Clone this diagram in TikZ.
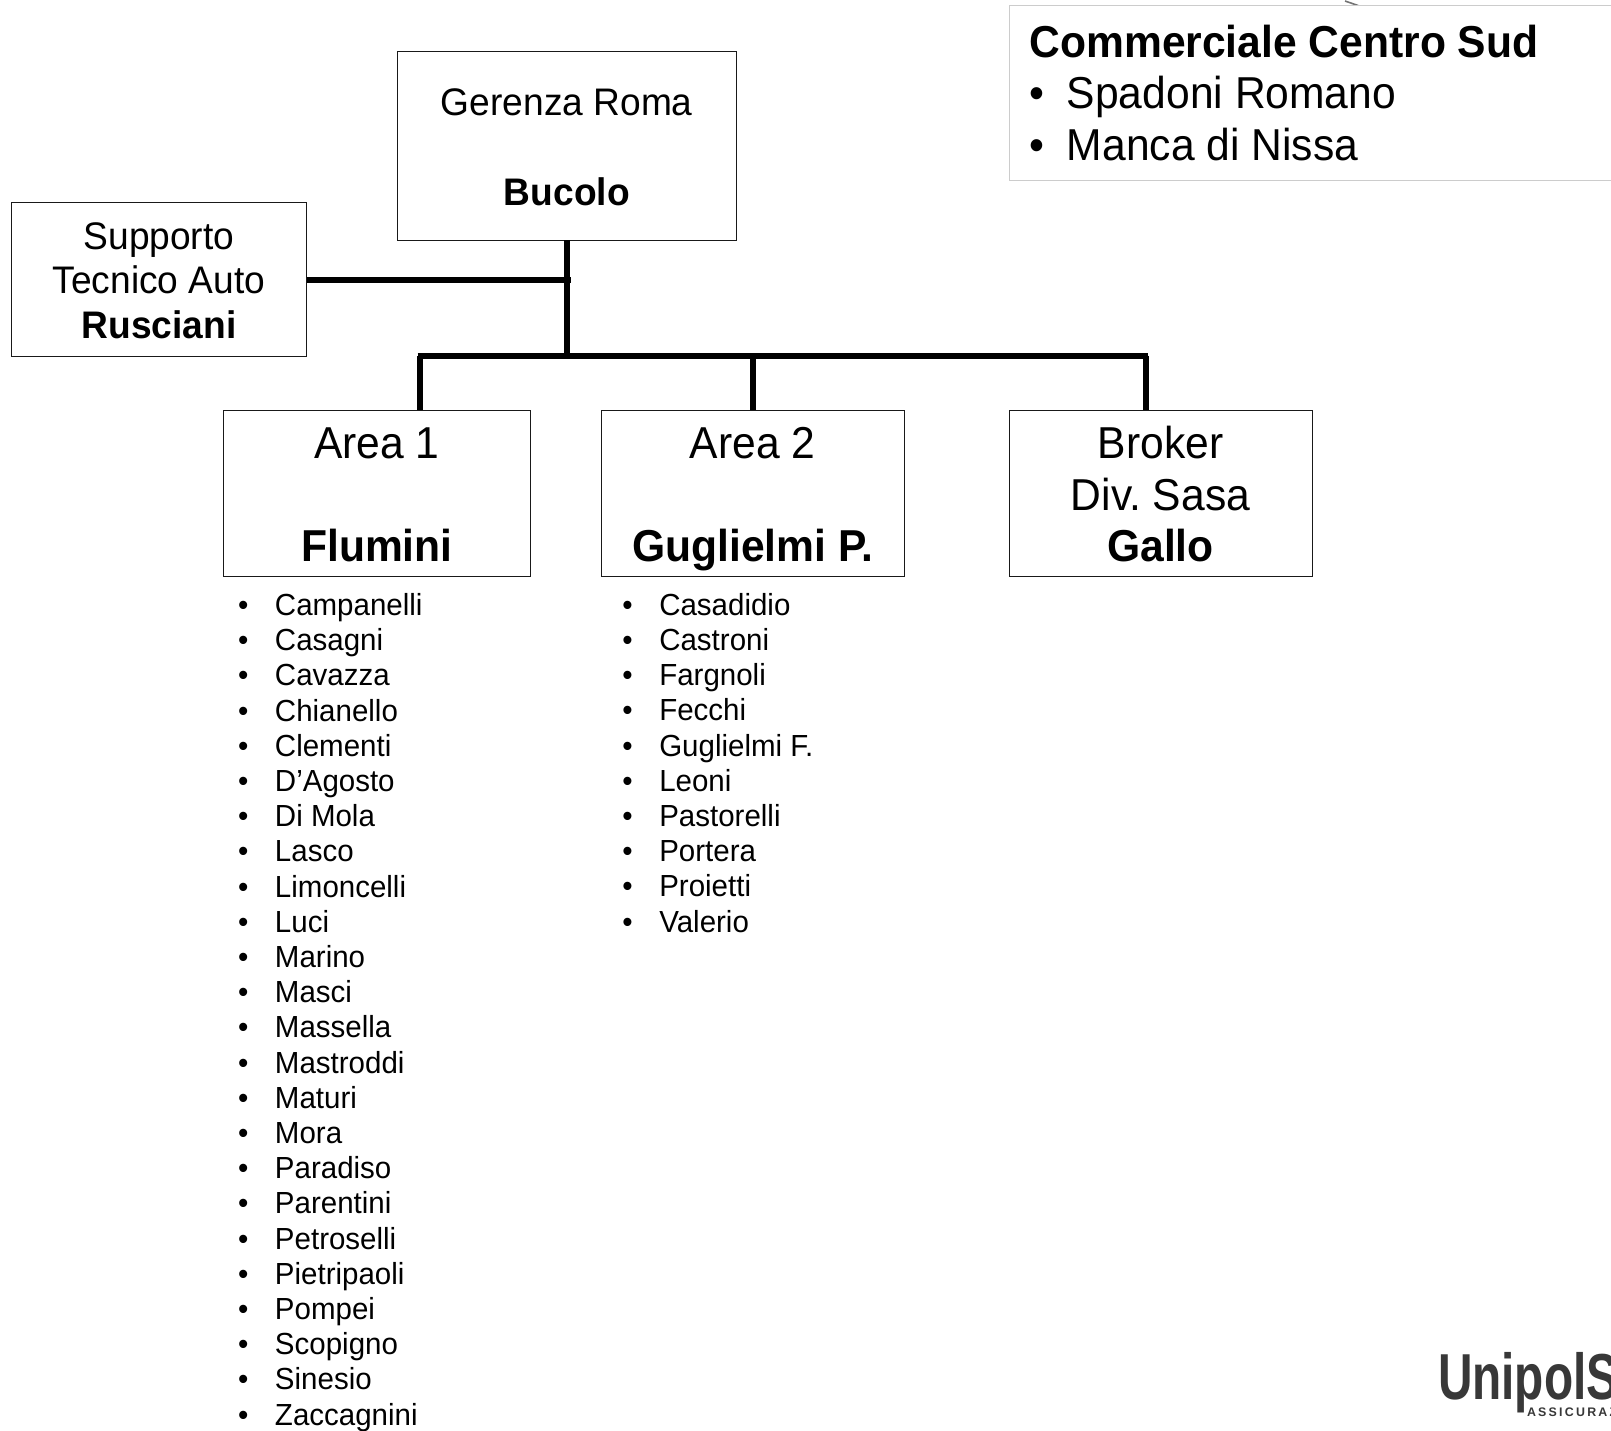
\documentclass[tikz,border=0pt]{standalone}
\usepackage{fontspec}
\usepackage{graphicx}
\setmainfont{Liberation Sans}[FakeStretch=0.967]
\newfontfamily\bigfam{Liberation Sans}[FakeStretch=0.953]
\newfontfamily\spacedbold[LetterSpace=18]{Liberation Sans Bold}
\frenchspacing
\newcommand{\boxlabel}[5]{% dy, dx, size, leading, rows
  \raisebox{#1}[0pt][0pt]{\makebox[0pt]{\hspace{#2}\fontsize{#3}{#4}\selectfont\begin{tabular}[b]{@{}c@{}}#5\end{tabular}}}}
\newcommand{\bigboxlabel}[1]{%
  \raisebox{-34.1pt}[0pt][0pt]{\makebox[0pt]{\bigfam\fontsize{22.35pt}{25.7pt}\selectfont\begin{tabular}[b]{@{}c@{}}#1\end{tabular}}}}
\newcommand{\leftlabel}[3]{%
  \raisebox{#1}[0pt][0pt]{\makebox[0pt][l]{\hspace{#2}\bigfam\fontsize{22.35pt}{25.7pt}\selectfont\begin{tabular}[b]{@{}l@{}}#3\end{tabular}}}}
\newcommand{\bul}[1]{\makebox[18.5pt][l]{•}#1}
\newcommand{\itemlist}[1]{%
  \raisebox{0pt}[0pt][0pt]{\makebox[0pt][l]{\fontsize{15.25pt}{17.6pt}\selectfont\begin{tabular}[b]{@{}l@{}}#1\end{tabular}}}}
\tikzset{
  orgbox/.style={draw=black!90,line width=0.5pt,fill=white,inner sep=0pt,outer sep=0pt},
  notebox/.style={draw=black!20,line width=0.5pt,fill=white,inner sep=0pt,outer sep=0pt},
  namelist/.style={inner sep=0pt,outer sep=0pt},
  link/.style={line width=3pt,black},
  logotext/.style={inner sep=0pt,outer sep=0pt,text=black!78,anchor=base west}
}
\begin{document}
\begin{tikzpicture}[x=0.5pt,y=-0.5pt]
\useasboundingbox (0,0) rectangle (1611,1430);
\fill[white] (0,0) rectangle (1611,1430);

\coordinate (mkA) at (1345,1);
\coordinate (mkB) at (1358,5.5);
\draw[black!55,line width=0.8pt] (mkA) -- (mkB);

\node[notebox,minimum width=307.5pt,minimum height=87.5pt] (note) at (1316.5,93)
  {\leftlabel{-33.5pt}{-143.5pt}{\textbf{Commerciale Centro Sud}\\\makebox[18.7pt][l]{•}Spadoni Romano\\\makebox[18.7pt][l]{•}Manca di Nissa}};

\node[orgbox,minimum width=169.75pt,minimum height=94.5pt] (gerenza) at (566.8,145.9)
  {\boxlabel{-29.75pt}{0pt}{19.2pt}{22.4pt}{Gerenza Roma\\ \\\textbf{Bucolo}}};
\node[orgbox,minimum width=147.5pt,minimum height=76.75pt] (supporto) at (159,279.6)
  {\boxlabel{-29.25pt}{0pt}{19.2pt}{22.15pt}{Supporto\\Tecnico Auto\\\textbf{Rusciani}}};
\node[orgbox,minimum width=153.75pt,minimum height=83.25pt] (area1) at (376.9,493.25)
  {\bigboxlabel{Area 1\\ \\\textbf{Flumini}}};
\node[orgbox,minimum width=151.5pt,minimum height=83.25pt] (area2) at (752.5,493.25)
  {\bigboxlabel{Area 2\\ \\\textbf{Guglielmi P.}}};
\node[orgbox,minimum width=151.5pt,minimum height=83.25pt] (broker) at (1160.5,493.25)
  {\bigboxlabel{Broker\\Div. Sasa\\\textbf{Gallo}}};

\coordinate (jsup) at (570.5,279.5);
\coordinate (busL) at (417.5,355.5);
\coordinate (busR) at (1148,355.5);
\coordinate (busM) at (566.8,355.5);
\coordinate (d1) at (420,355.5);
\coordinate (d2) at (753,355.5);
\coordinate (d3) at (1145.5,355.5);
\draw[link] (supporto.east |- jsup) -- (jsup);
\draw[link] (gerenza.south) -- (busM);
\draw[link] (busL) -- (busR);
\draw[link] (d1) -- (d1 |- area1.north);
\draw[link] (d2) -- (d2 |- area2.north);
\draw[link] (d3) -- (d3 |- broker.north);

\node[namelist] (list1) at (238,1425)
  {\itemlist{\bul{Campanelli}\\\bul{Casagni}\\\bul{Cavazza}\\\bul{Chianello}\\\bul{Clementi}\\\bul{D’Agosto}\\\bul{Di Mola}\\\bul{Lasco}\\\bul{Limoncelli}\\\bul{Luci}\\\bul{Marino}\\\bul{Masci}\\\bul{Massella}\\\bul{Mastroddi}\\\bul{Maturi}\\\bul{Mora}\\\bul{Paradiso}\\\bul{Parentini}\\\bul{Petroselli}\\\bul{Pietripaoli}\\\bul{Pompei}\\\bul{Scopigno}\\\bul{Sinesio}\\\bul{Zaccagnini}}};
\node[namelist] (list2) at (622.3,932)
  {\itemlist{\bul{Casadidio}\\\bul{Castroni}\\\bul{Fargnoli}\\\bul{Fecchi}\\\bul{Guglielmi F.}\\\bul{Leoni}\\\bul{Pastorelli}\\\bul{Portera}\\\bul{Proietti}\\\bul{Valerio}}};

\node[logotext] (logo) at (1438,1399)
  {\fontsize{32.5pt}{32.5pt}\selectfont\bfseries\scalebox{0.76}[1]{UnipolS}};
\node[logotext] (logosub) at (1527,1416)
  {\fontsize{6.2pt}{6.2pt}\spacedbold ASSICURAZ};
\end{tikzpicture}
\end{document}
